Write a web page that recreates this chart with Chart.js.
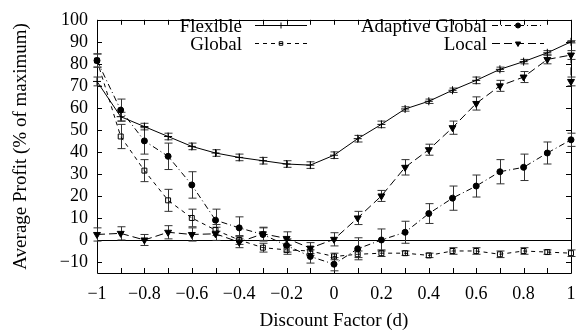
<!DOCTYPE html>
<html>
<head>
<meta charset="utf-8">
<script src="https://cdn.jsdelivr.net/npm/chart.js@4/dist/chart.umd.min.js"></script>
<style>
  html, body { margin: 0; padding: 0; background: #fff; }
  #wrap { width: 586px; height: 336px; }
</style>
</head>
<body>
<div id="wrap"><canvas id="c"></canvas></div>
<script>
// discount factor d, one point every 0.1
const xs = [-1, -0.9, -0.8, -0.7, -0.6, -0.5, -0.4, -0.3, -0.2, -0.1, 0,
            0.1, 0.2, 0.3, 0.4, 0.5, 0.6, 0.7, 0.8, 0.9, 1];
const xTicks = [-1, -0.8, -0.6, -0.4, -0.2, 0, 0.2, 0.4, 0.6, 0.8, 1];
const yTicks = [-10, 0, 10, 20, 30, 40, 50, 60, 70, 80, 90, 100];

// average profit (% of maximum) and half-width of the error bars
const flexible    = [72, 56, 51.5, 47, 42.5, 39.5, 37.5, 36, 34.5, 34, 38.5, 46, 52.5, 59.5, 63, 68, 72.5, 77.5, 81, 85, 90];
const flexibleErr = [2, 2, 1.5, 1.5, 1.5, 1.5, 1.5, 1.5, 1.5, 1.5, 1.5, 1.5, 1.5, 1, 1, 1, 1.5, 1, 1, 1, 0.5];
const global      = [81.5, 47, 31.5, 18, 10, 4.5, 0, -3.5, -4.5, -5, -7.5, -6.5, -6, -6, -7, -5, -5, -6.5, -5, -5.5, -6];
const globalErr   = [3, 5.5, 5, 5, 4, 2.5, 2, 2, 2, 2, 1.5, 1.5, 1.5, 1, 1, 1.5, 1.5, 1.5, 1.5, 1, 1.5];
const adaptive    = [81.5, 59, 45, 38, 25, 9, 5.5, 2.5, -2.5, -7.5, -11, -4, 0, 3.5, 12, 19, 24.5, 31, 33, 39.5, 45.5];
const adaptiveErr = [3, 5, 6, 6, 6, 5, 5, 3, 3, 3, 3, 5, 5, 5, 4.5, 5.5, 5, 5.5, 6, 5, 3];
// last run at d = 1 was recorded twice
const localX      = xs.concat([1]);
const local       = [2.5, 3, 0, 3.5, 2.5, 2.8, -1, 2.8, 0.7, -3.7, 0.3, 10, 20, 33, 41, 51, 62, 70, 74, 82, 84, 72];
const localErr    = [3, 3, 2.5, 3, 3, 3, 2.5, 3, 3, 2.5, 3, 3, 2.5, 3.5, 2.5, 3, 3, 2.5, 2.5, 2, 2, 2];

const FONT = "'Liberation Serif', 'Times New Roman', serif";
const pts = (xv, yv) => yv.map((v, i) => ({ x: xv[i], y: v }));
const fmt = (v) => String(Math.round(v * 10) / 10).replace('-', '\u2212');

function series(label, xv, yv, err, dash, style, extra) {
  return Object.assign({
    label, data: pts(xv, yv), err,
    borderColor: '#000', backgroundColor: '#000', borderWidth: 1, borderDash: dash,
    pointStyle: style, pointRadius: 3.5, pointBorderColor: '#000', pointBorderWidth: 1,
    pointBackgroundColor: '#000', tension: 0, clip: false
  }, extra);
}

// key: text right edge, baseline, sample start/end, marker size
const datasets = [
  series('Flexible', xs, flexible, flexibleErr, [], 'cross',
    { pointRadius: 4, key: [242, 32, 255, 307, 3] }),
  series('Global', xs, global, globalErr, [4, 4], 'rect',
    { pointBackgroundColor: 'rgba(0,0,0,0)', key: [242, 50, 255, 307, 2.5] }),
  series('Adaptive Global', xs, adaptive, adaptiveErr, [6, 3, 1, 3], 'circle',
    { pointRadius: 3, key: [487, 32, 492, 544, 2.5] }),
  series('Local', localX, local, localErr, [8, 4], 'triangle',
    { pointRotation: 180, pointRadius: 4, key: [487, 50, 492, 544, 3] })
];

// vertical error bars with small caps
const errBars = {
  id: 'errBars',
  beforeDatasetsDraw(chart) {
    const { ctx, scales: { x, y } } = chart;
    ctx.save();
    ctx.strokeStyle = '#333';
    ctx.lineWidth = 1;
    chart.data.datasets.forEach(ds => {
      ds.data.forEach((p, j) => {
        const e = ds.err[j];
        const px = Math.round(x.getPixelForValue(p.x)) + 0.5;
        const y1 = y.getPixelForValue(p.y - e), y2 = y.getPixelForValue(p.y + e);
        ctx.beginPath();
        ctx.moveTo(px, y1); ctx.lineTo(px, y2);
        ctx.moveTo(px - 4, y1); ctx.lineTo(px + 4, y1);
        ctx.moveTo(px - 4, y2); ctx.lineTo(px + 4, y2);
        ctx.stroke();
      });
    });
    ctx.restore();
  }
};

// gnuplot style frame: box, inward ticks on all sides, zero line
const frame = {
  id: 'frame',
  beforeDatasetsDraw(chart) {
    const { ctx, chartArea: a, scales: { x, y } } = chart;
    ctx.save();
    ctx.strokeStyle = '#000';
    ctx.lineWidth = 1;
    ctx.beginPath();
    ctx.rect(Math.round(a.left) + 0.5, Math.round(a.top) + 0.5, Math.round(a.right - a.left), Math.round(a.bottom - a.top));
    const y0 = Math.round(y.getPixelForValue(0)) + 0.5;
    ctx.moveTo(a.left, y0); ctx.lineTo(a.right, y0);
    xs.forEach(v => {
      const px = Math.round(x.getPixelForValue(v)) + 0.5;
      ctx.moveTo(px, a.bottom); ctx.lineTo(px, a.bottom - 5);
      ctx.moveTo(px, a.top); ctx.lineTo(px, a.top + 5);
    });
    yTicks.forEach(v => {
      const py = Math.round(y.getPixelForValue(v)) + 0.5;
      ctx.moveTo(a.left, py); ctx.lineTo(a.left + 5, py);
      ctx.moveTo(a.right, py); ctx.lineTo(a.right - 5, py);
    });
    ctx.stroke();
    ctx.restore();
  }
};

// key: label right aligned, then line sample with its marker
const key = {
  id: 'key',
  afterDraw(chart) {
    const { ctx } = chart;
    ctx.save();
    ctx.font = '19px ' + FONT;
    ctx.textAlign = 'right';
    ctx.textBaseline = 'alphabetic';
    chart.data.datasets.forEach(ds => {
      const [tx, base, x1, x2, r] = ds.key;
      const ly = base - 7 + 0.5;
      ctx.fillStyle = '#000';
      ctx.fillText(ds.label, tx, base);
      ctx.strokeStyle = '#000';
      ctx.lineWidth = 1;
      ctx.setLineDash(ds.borderDash);
      ctx.beginPath();
      ctx.moveTo(x1, ly); ctx.lineTo(x2, ly);
      ctx.stroke();
      ctx.setLineDash([]);
      ctx.fillStyle = ds.pointBackgroundColor;
      Chart.helpers.drawPoint(ctx, {
        pointStyle: ds.pointStyle, radius: r,
        rotation: ds.pointRotation || 0, borderWidth: 1
      }, (x1 + x2) / 2, ly);
    });
    ctx.restore();
  }
};

new Chart(document.getElementById('c'), {
  type: 'line',
  data: { datasets },
  options: {
    responsive: true,
    maintainAspectRatio: false,
    animation: false,
    layout: { padding: { top: 11, right: 15, left: 0, bottom: 0 } },
    plugins: { legend: { display: false }, tooltip: { enabled: false } },
    scales: {
      x: {
        type: 'linear', min: -1, max: 1,
        afterBuildTicks: (s) => { s.ticks = xTicks.map(v => ({ value: v })); },
        afterFit: (s) => { s.height = 63; },
        grid: { display: false, drawTicks: false }, border: { display: false },
        ticks: { autoSkip: false, maxRotation: 0, padding: 10, color: '#000',
                 font: { family: FONT, size: 18 }, callback: (v) => fmt(v) },
        title: { display: true, text: 'Discount Factor (d)', color: '#000',
                 font: { family: FONT, size: 19 }, padding: { top: 0, bottom: 4 } }
      },
      y: {
        type: 'linear', min: -15, max: 100,
        afterBuildTicks: (s) => { s.ticks = yTicks.map(v => ({ value: v })); },
        afterFit: (s) => { s.width = 97; },
        grid: { display: false, drawTicks: false }, border: { display: false },
        ticks: { autoSkip: false, padding: 9, color: '#000', font: { family: FONT, size: 18 }, callback: (v) => fmt(v) },
        title: { display: true, text: 'Average Profit (% of maximum)', color: '#000',
                 font: { family: FONT, size: 19 }, padding: { top: 10, bottom: 0 } }
      }
    }
  },
  plugins: [frame, errBars, key]
});
</script>
</body>
</html>
